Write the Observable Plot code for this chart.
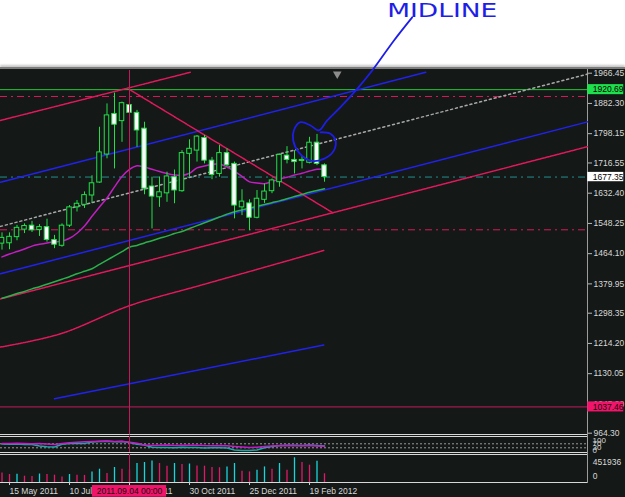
<!DOCTYPE html>
<html><head><meta charset="utf-8">
<script src="https://cdn.jsdelivr.net/npm/d3@7"></script>
<script src="https://cdn.jsdelivr.net/npm/@observablehq/plot@0.6"></script>
<style>
html,body{margin:0;padding:0;background:#fff;}
#chart{position:relative;width:625px;height:497px;overflow:hidden;background:#fff;font-family:"Liberation Sans",Arial,sans-serif;}
#bg{position:absolute;left:0;top:67px;width:625px;height:430px;background:#141816;border-top:2px solid #7c7c7c;box-sizing:border-box;box-shadow:0 -2px 2px #c8c8c8;}
.hl{position:absolute;left:0;width:587px;height:1px;background:#d8d8d8;}
.vl{position:absolute;left:587px;top:69px;width:1px;height:414px;background:#9c9c9c;}
.layer{position:absolute;left:0;}
svg{overflow:visible;display:block;}
</style></head><body><div id="chart">
<div id="bg"></div>
<div class="vl"></div>
<div class="hl" style="top:434px"></div>
<div class="hl" style="top:436px"></div>
<div class="hl" style="top:452px"></div>
<div class="hl" style="top:454px"></div>
<div class="hl" style="top:482px"></div>
</div>
<script>
// ---- data (weekly XAUUSD) ----
const dates = ["2011-05-08","2011-05-15","2011-05-22","2011-05-29","2011-06-05","2011-06-12","2011-06-19","2011-06-26",
"2011-07-03","2011-07-10","2011-07-17","2011-07-24","2011-07-31","2011-08-07","2011-08-14","2011-08-21","2011-08-28",
"2011-09-04","2011-09-11","2011-09-18","2011-09-25","2011-10-02","2011-10-09","2011-10-16","2011-10-23","2011-10-30",
"2011-11-06","2011-11-13","2011-11-20","2011-11-27","2011-12-04","2011-12-11","2011-12-18","2011-12-25","2012-01-01",
"2012-01-08","2012-01-15","2012-01-22","2012-01-29","2012-02-05","2012-02-12","2012-02-19","2012-02-26","2012-03-04"];
const open  = [1492,1493,1510,1531,1542,1530,1538,1502,1486,1542,1593,1600,1626,1662,1740,1853,1833,1878,1856,1812,1651,1621,1632,1677,1638,1742,1751,1786,1723,1686,1744,1714,1593,1604,1564,1614,1638,1663,1737,1725,1722,1717,1773,1710];
const high  = [1522,1522,1543,1547,1554,1545,1560,1515,1547,1598,1612,1636,1681,1816,1881,1911,1886,1920.69,1863,1830,1677,1677,1691,1697,1751,1781,1793,1793,1732,1765,1756,1719,1642,1614,1640,1658,1672,1742,1762,1751,1734,1788,1796,1714];
const low   = [1474,1475,1500,1520,1523,1512,1496,1478,1482,1537,1580,1590,1604,1660,1728,1700,1774,1797,1760,1628,1533,1593,1607,1603,1635,1677,1719,1714,1670,1677,1705,1561,1570,1528,1561,1604,1631,1649,1714,1686,1700,1714,1709,1663];
const close = [1508,1511,1536,1541,1529,1538,1502,1489,1542,1593,1603,1627,1660,1746,1849,1823,1883,1856,1807,1645,1623,1635,1679,1640,1744,1756,1790,1723,1683,1744,1710,1598,1609,1564,1617,1637,1668,1739,1725,1719,1725,1773,1714,1677.35];
const volume = [176000,146000,150000,115000,108000,155000,145000,134000,102000,146000,134000,130000,194000,243000,165000,274000,243000,230000,348000,366000,395000,348000,298000,348000,330000,338000,304000,298000,274000,270000,285000,348000,207000,194000,225000,285000,243000,348000,225000,451936,366000,317000,390000,160000];
const maFast = [1455,1463,1470,1477,1485,1490,1494,1497,1499,1507,1521,1541,1568,1594,1619,1650,1679,1699,1709,1705,1699,1693,1687,1683,1682,1688,1703,1708,1712,1714,1705,1694,1679,1664,1661,1659,1665,1672,1677,1683,1688,1694,1699,1700];
const maSlow = [1340,1346,1353,1359,1366,1372,1379,1386,1393,1400,1408,1415,1422,1434,1446,1458,1470,1482,1487,1494,1500,1507,1513,1520,1526,1534,1542,1550,1558,1566,1574,1581,1586,1591,1596,1601,1606,1611,1617,1623,1629,1635,1640,1645];
const oscA = [72,74,75,73,71,72,68,64,72,80,86,90,93,96,98,94,95,86,76,58,52,55,57,54,56,55,56,52,51,53,50,44,38,33,36,44,48,50,52,51,50,52,49,45];
const oscB = [68,66,67,64,62,48,40,38,66,72,76,74,88,93,95,90,92,84,66,58,36,32,34,30,36,32,33,28,30,31,27,9,4,3,8,30,42,52,55,56,54,57,54,47];
const priceTicks = [1966.45,1882.30,1798.15,1716.55,1632.40,1548.25,1464.10,1379.95,1298.35,1214.20,1130.05,1045.90,964.30];
const oscTicks = [100,70,30,0];
const volTop = 451936;
const highLevel = 1920.69;
const redLevels = [1901.5, 1530.5];
const lastPrice = 1677.35;
const lowLevel = 1037.46;
const dateTickIdx = [1,9,17,25,33,41];
const dateTickLabels = ["15 May 2011","10 Jul 2011","4 Sep 2011","30 Oct 2011","25 Dec 2011","19 Feb 2012"];
const crosshairIdx = 17;
const crosshairLabel = "2011.09.04 00:00";
// trendlines as [week index, price]
const upperBlue  = [[-0.2,1663],[56.5,1969]];
const lowerBlue  = [[-0.2,1408],[78.07,1831]];
const midline    = [[-0.2,1540],[78.07,1964]];
const redTop     = [[-0.2,1835],[25.1,1969]];
const redDown    = [[17,1921],[44.1,1578]];
const redChannel = [[-0.2,1338],[78.07,1762]];
const redCurve   = [[-0.2,1204],[7.8,1241],[17.1,1320],[26.3,1375],[34.3,1422],[42.9,1473]];
const blueLow    = [[7,1060],[42.9,1210]];
// hand-drawn annotation
const noteText = "MIDLINE";
const notePos = [58.7, 2141];
const scribble = [[54.69,2122],[52.24,2057],[49.36,1974],[47.36,1923],[45.13,1872],[43.36,1835],[42.24,1807],
  [41.13,1821],[39.8,1830],[38.91,1807],[38.83,1779],[39.57,1746],[41.13,1723],[42.91,1728],[44.24,1751],[44.47,1779],[43.8,1798],[42.47,1802]];
const shiftMarker = [[44.7,1964]];

// ---- drawing ----
const BG = "#141816", LIME = "#22e04a", BLUE = "#2222ee", PINK = "#e0185c", CROSS = "#c41a5c";
const X = {type:"linear", domain:[0,43], range:[1.5,324], axis:null};
const AX = [78.1, 82.9]; // right price-axis band (week units)
const FONT = "Liberation Sans, Arial, sans-serif";
const style = {background:"transparent", color:"#d8d8d8", fontFamily:FONT, overflow:"visible"};
const candles = dates.map((d,i)=>({i, o:open[i], h:high[i], l:low[i], c:close[i]}));
const P = (pts, o) => Plot.line(pts, {x:d=>d[0], y:d=>d[1], ...o});
const idx = (arr) => arr.map((v,i)=>({i, v}));
const FS = 8.5;

const main = Plot.plot({
  width:625, height:436, marginTop:70, marginRight:38, marginLeft:0, marginBottom:1.5,
  style, x:X, y:{domain:[964.30,1966.45], range:[432.7,72.7]}, color:{type:"identity"},
  marks:[
    Plot.ruleY([highLevel], {stroke:"#22c43a"}),
    Plot.ruleY(redLevels, {stroke:"#d81c5c", strokeDasharray:"7,4,2,4"}),
    Plot.ruleY([lastPrice], {stroke:"#1f9090", strokeDasharray:"7,4,2,4"}),
    Plot.ruleY([lowLevel], {stroke:CROSS}),
    P(midline, {stroke:"#a8a8a8", strokeDasharray:"2,3"}),
    P(upperBlue, {stroke:BLUE}),
    P(lowerBlue, {stroke:BLUE}),
    P(blueLow, {stroke:BLUE}),
    P(redTop, {stroke:PINK, strokeDasharray:"1.5,1"}),
    P(redDown, {stroke:PINK, strokeDasharray:"1.5,1"}),
    P(redChannel, {stroke:PINK, strokeDasharray:"1.5,1"}),
    P(redCurve, {stroke:PINK, strokeDasharray:"1.5,1", curve:"catmull-rom"}),
    Plot.line(idx(maSlow), {x:"i", y:"v", stroke:"#2cb04c", curve:"catmull-rom"}),
    Plot.line(idx(maFast), {x:"i", y:"v", stroke:"#c21ec2", curve:"catmull-rom"}),
    Plot.ruleX(candles, {x:"i", y1:"l", y2:"h", stroke:LIME}),
    Plot.rect(candles, {x1:d=>d.i-0.3, x2:d=>d.i+0.3, y1:d=>Math.min(d.o,d.c), y2:d=>Math.max(d.o,d.c),
      fill:d=>d.c>=d.o ? BG : "#ffffff", stroke:LIME}),
    Plot.ruleX([crosshairIdx], {stroke:CROSS}),
    Plot.axisY({anchor:"right", ticks:priceTicks, tickFormat:d=>d.toFixed(2), tickSize:4, tickPadding:2, fontSize:FS, stroke:"#bbb", label:null}),
    Plot.rect([highLevel], {x1:AX[0], x2:AX[1], y1:d=>d-14, y2:d=>d+14, fill:"#1ee04c"}),
    Plot.text([highLevel], {x:AX[0], y:d=>d, text:d=>d.toFixed(2), dx:5, textAnchor:"start", fill:"#000", fontSize:FS}),
    Plot.rect([lastPrice], {x1:AX[0], x2:AX[1], y1:d=>d-13, y2:d=>d+13, fill:"#ffffff"}),
    Plot.text([lastPrice], {x:AX[0], y:d=>d, text:d=>d.toFixed(2), dx:5, textAnchor:"start", fill:"#000", fontSize:FS}),
    Plot.rect([lowLevel], {x1:AX[0], x2:AX[1], y1:d=>d-14, y2:d=>d+14, fill:"#f0146a"}),
    Plot.text([lowLevel], {x:AX[0], y:d=>d, text:d=>d.toFixed(2), dx:5, textAnchor:"start", fill:"#1a0008", fontSize:FS}),
    Plot.dot(shiftMarker, {x:d=>d[0], y:d=>d[1], symbol:"triangle", rotate:180, r:3.2, fill:"#8c8c8c", stroke:null}),
    P(scribble, {stroke:"#1e1ee6", strokeWidth:1.8, curve:"catmull-rom"}),
    Plot.text([notePos], {x:d=>d[0], y:d=>d[1], text:[noteText], fill:"#1e1ee6", fontSize:19, fontFamily:"DejaVu Sans"})
  ]
});

const osc = Plot.plot({
  width:625, height:17, marginTop:0, marginBottom:1, marginLeft:0, marginRight:38,
  style, x:X, y:{domain:[-17,133], range:[16,1]},
  marks:[
    Plot.ruleY([70,30], {stroke:"#9a9a9a", strokeDasharray:"2,2"}),
    Plot.line(idx(oscB), {x:"i", y:"v", stroke:"#1fa6a6"}),
    Plot.line(idx(oscA), {x:"i", y:"v", stroke:"#c21ec8"}),
    Plot.ruleX([crosshairIdx], {stroke:CROSS}),
    Plot.axisY({anchor:"right", ticks:oscTicks, tickSize:0, tickPadding:5, fontSize:8, label:null})
  ]
});

const vol = Plot.plot({
  width:625, height:30, marginTop:1, marginBottom:1, marginLeft:0, marginRight:38,
  style, x:X, y:{domain:[0,volTop], range:[29,4.3], axis:null}, color:{type:"identity"},
  marks:[
    Plot.ruleX(idx(volume), {x:"i", y1:0, y2:"v", strokeWidth:1.3,
      stroke:d=> d.i>0 && d.v>volume[d.i-1] ? "#19d6de" : "#e01a6a"}),
    Plot.ruleX([crosshairIdx], {stroke:CROSS}),
    Plot.text([volTop], {x:AX[0], y:d=>d, text:d=>String(d), dx:5, dy:4.4, textAnchor:"start", fontSize:FS}),
    Plot.text([0], {x:AX[0], y:d=>d, text:d=>String(d), dx:5, dy:-6, textAnchor:"start", fontSize:FS})
  ]
});

const xax = Plot.plot({
  width:625, height:15, marginTop:0, marginBottom:0, marginLeft:0, marginRight:38,
  style, x:X, y:{domain:[0,1], range:[15,0], axis:null},
  marks:[
    Plot.ruleX(dateTickIdx, {x:d=>d, y1:0.8, y2:1, stroke:"#cfcfcf"}),
    Plot.text(dateTickIdx, {x:d=>d, y:0.42, text:(d,i)=>dateTickLabels[i], textAnchor:"start", fontSize:FS}),
    Plot.rect([crosshairIdx], {x1:d=>d-4.95, x2:d=>d+4.95, y1:0.02, y2:0.8, fill:"#f0146a"}),
    Plot.text([crosshairIdx], {x:d=>d, y:0.42, text:[crosshairLabel], fill:"#1a0a10", fontSize:FS})
  ]
});

const chart = document.getElementById("chart");
[[main,0],[osc,436],[vol,453],[xax,482]].forEach(([svg,top])=>{
  const div = document.createElement("div");
  div.className = "layer"; div.style.top = top + "px";
  div.appendChild(svg); chart.appendChild(div);
});
d3.select(main).selectAll("text").filter(function(){return this.textContent===noteText;})
  .attr("textLength",110).attr("lengthAdjust","spacingAndGlyphs");
</script>
</body></html>
